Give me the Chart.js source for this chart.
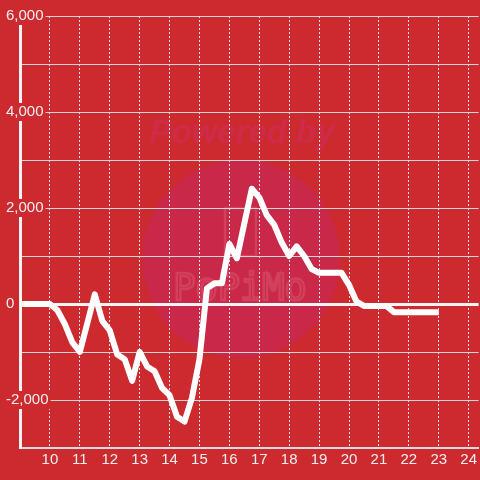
<!DOCTYPE html>
<html>
<head>
<meta charset="utf-8">
<script src="https://cdn.jsdelivr.net/npm/chart.js@4"></script>
<style>
  body { margin: 0; background: #cc2a2f; }
  #wrap { width: 480px; height: 480px; }
</style>
</head>
<body>
<div id="wrap"><canvas id="chart" width="480" height="480"></canvas></div>
<script>
// hours of the day, every 15 minutes
const hours = [
  9, 9.25, 9.5, 9.75, 10, 10.25, 10.5, 10.75, 11, 11.25, 11.5, 11.75,
  12, 12.25, 12.5, 12.75, 13, 13.25, 13.5, 13.75, 14, 14.25, 14.5, 14.75,
  15, 15.25, 15.5, 15.75, 16, 16.25, 16.5, 16.75, 17, 17.25, 17.5, 17.75,
  18, 18.25, 18.5, 18.75, 19, 19.25, 19.5, 19.75, 20, 20.25, 20.5, 20.75,
  21, 21.25, 21.5, 21.75, 22, 22.25, 22.5, 22.75, 23
];
const values = [
  0, 0, 0, 0, 0, -130, -420, -800, -1000, -400, 200, -350,
  -550, -1050, -1150, -1600, -1000, -1300, -1400, -1750, -1900, -2350, -2450, -1950,
  -1150, 330, 430, 430, 1250, 950, 1680, 2400, 2220, 1850, 1650, 1280,
  1000, 1200, 1000, 730, 650, 650, 650, 650, 400, 50, -40, -40,
  -40, -40, -170, -170, -170, -170, -170, -170, -170
];
const yLabels = [-2000, 0, 2000, 4000, 6000];
const xLabels = [10, 11, 12, 13, 14, 15, 16, 17, 18, 19, 20, 21, 22, 23, 24];

const bg = '#cc2a2f';
const labelColor = '#f2eeee';
const font = { family: '"Liberation Sans", Arial, sans-serif', size: 15 };

// background + faint watermark
const backdrop = {
  id: 'backdrop',
  beforeDraw(chart) {
    const c = chart.ctx;
    c.save();
    c.fillStyle = bg;
    c.fillRect(0, 0, chart.width, chart.height);
    c.fillStyle = '#c92848';
    c.beginPath();
    c.arc(241, 259, 99, 0, Math.PI * 2);
    c.fill();
    c.fillStyle = 'rgba(208,44,80,0.8)';
    c.font = 'italic bold 33px "Liberation Sans", Arial, sans-serif';
    c.textAlign = 'center';
    c.textBaseline = 'middle';
    c.fillText('Powered by', 242, 134);
    c.strokeStyle = 'rgba(226,100,120,0.4)';
    c.lineWidth = 2.5;
    c.strokeRect(225, 208, 31, 48);
    c.font = '37px "DejaVu Sans Mono", monospace';
    c.strokeText('PoPiMo', 240, 290);
    c.restore();
  }
};

new Chart(document.getElementById('chart'), {
  type: 'line',
  data: {
    datasets: [{
      data: hours.map((h, i) => ({ x: h, y: values[i] })),
      borderColor: '#ffffff',
      borderWidth: 6,
      borderJoinStyle: 'round',
      pointRadius: 0,
      tension: 0,
      fill: false
    }]
  },
  options: {
    responsive: false,
    animation: false,
    layout: { padding: { top: 16, left: 0, right: 0, bottom: 0 } },
    plugins: { legend: { display: false }, tooltip: { enabled: false } },
    scales: {
      x: {
        type: 'linear',
        min: 9,
        max: 24.3333,
        afterBuildTicks: s => { s.ticks = xLabels.map(v => ({ value: v })); },
        afterFit: s => { s.height = 32; },
        grid: { color: '#e6e6e6', lineWidth: 1, drawTicks: false },
        border: { display: true, color: '#dddddd', width: 2, dash: [2, 2] },
        ticks: { color: labelColor, font, padding: 3, maxRotation: 0, autoSkip: false }
      },
      y: {
        min: -3000,
        max: 6000,
        ticks: {
          stepSize: 1000,
          mirror: true,
          padding: -14,
          color: labelColor,
          font,
          callback: v => yLabels.includes(v) ? v.toLocaleString('en-US') : '',
          showLabelBackdrop: ctx => ctx.tick && yLabels.includes(ctx.tick.value),
          backdropColor: bg,
          backdropPadding: { top: 0, bottom: 0, left: 2, right: 2 }
        },
        afterFit: s => { s.width = 20; },
        grid: {
          drawTicks: false,
          color: ctx => ctx.tick && ctx.tick.value === 0 ? '#f4f4f4' : '#d6d6d6',
          lineWidth: ctx => ctx.tick && ctx.tick.value === 0 ? 3 : 1
        },
        border: { display: true, color: '#f4f4f4', width: 3 }
      }
    }
  },
  plugins: [backdrop]
});
</script>
</body>
</html>
